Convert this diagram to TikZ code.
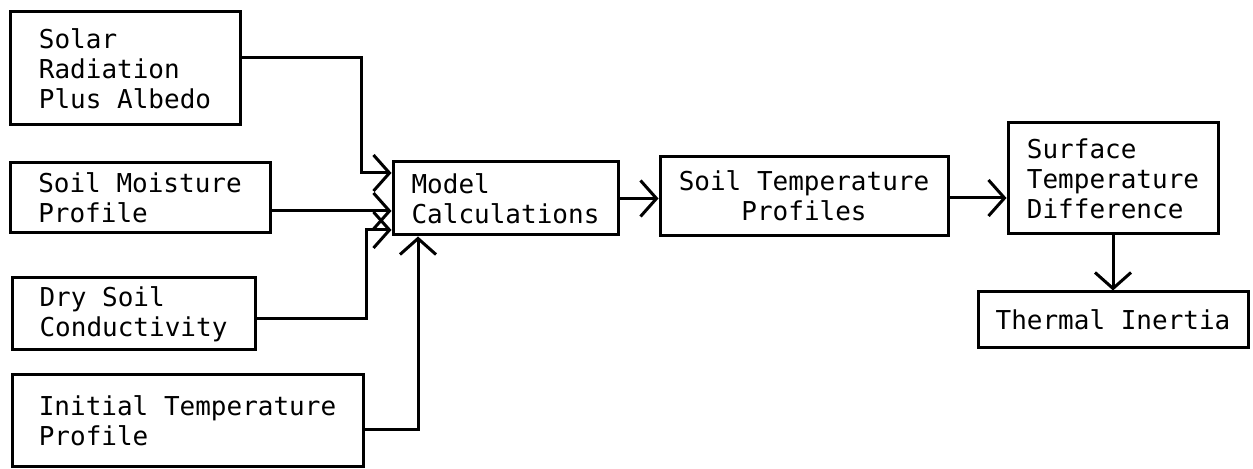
\documentclass[tikz,border=0pt]{standalone}
\usepackage{fontspec}
\setmonofont{DejaVu Sans Mono}
\usetikzlibrary{arrows.meta}

\begin{document}
\begin{tikzpicture}[x=0.5pt, y=-0.5pt, line width=1.5pt,
	every node/.style={font=\ttfamily\fontsize{13}{15}\selectfont},
	box/.style={draw, align=left, inner sep=0pt},
	>={Straight Barb[length=8pt, width=18pt]}]
	\useasboundingbox (0,0) rectangle (1253,469);
	% inputs
	\node[box, minimum width=115pt, minimum height=56.5pt] (solar) at (125,68.5) {Solar\\Radiation\\Plus Albedo};
	\node[box, minimum width=130pt, minimum height=35pt] (moist) at (140,198) {Soil Moisture\\Profile};
	\node[box, minimum width=121.5pt, minimum height=36pt] (dry) at (133.5,314) {Dry Soil\\Conductivity};
	\node[box, minimum width=175.5pt, minimum height=46pt] (init) at (187.5,421) {Initial Temperature\\Profile};
	% model and outputs
	\node[box, minimum width=112.5pt, minimum height=36.5pt] (model) at (505.5,198.5) {Model\\Calculations};
	\node[box, align=center, minimum width=144pt, minimum height=39.5pt] (soilT) at (804,196) {Soil Temperature\\Profiles};
	\node[box, minimum width=105pt, minimum height=55.5pt] (surf) at (1113,178.5) {Surface\\Temperature\\Difference};
	\node[box, minimum width=135pt, minimum height=28pt] (inertia) at (1113,320) {Thermal Inertia};

	\draw[->] ([yshift=5.25pt]solar.east) -| ([xshift=-15pt, yshift=12.75pt]model.west) -- ([yshift=12.75pt]model.west);
	\draw[->] ([yshift=-6.5pt]moist.east) -- ([yshift=-6.5pt]moist.east -| model.west);
	\draw[->] ([yshift=-2.5pt]dry.east) -| ([xshift=-12.5pt, yshift=-15.75pt]model.west) -- ([yshift=-15.75pt]model.west);
	\draw[->] ([yshift=-4.5pt]init.east) -| ([xshift=-43.75pt]model.south);
	\draw[->] (model.east) -- (model.east -| soilT.west);
	\draw[->] ([yshift=-1pt]soilT.east) -- ([yshift=-1pt]soilT.east -| surf.west);
	\draw[->] (surf.south) -- (inertia.north);
\end{tikzpicture}
\end{document}
